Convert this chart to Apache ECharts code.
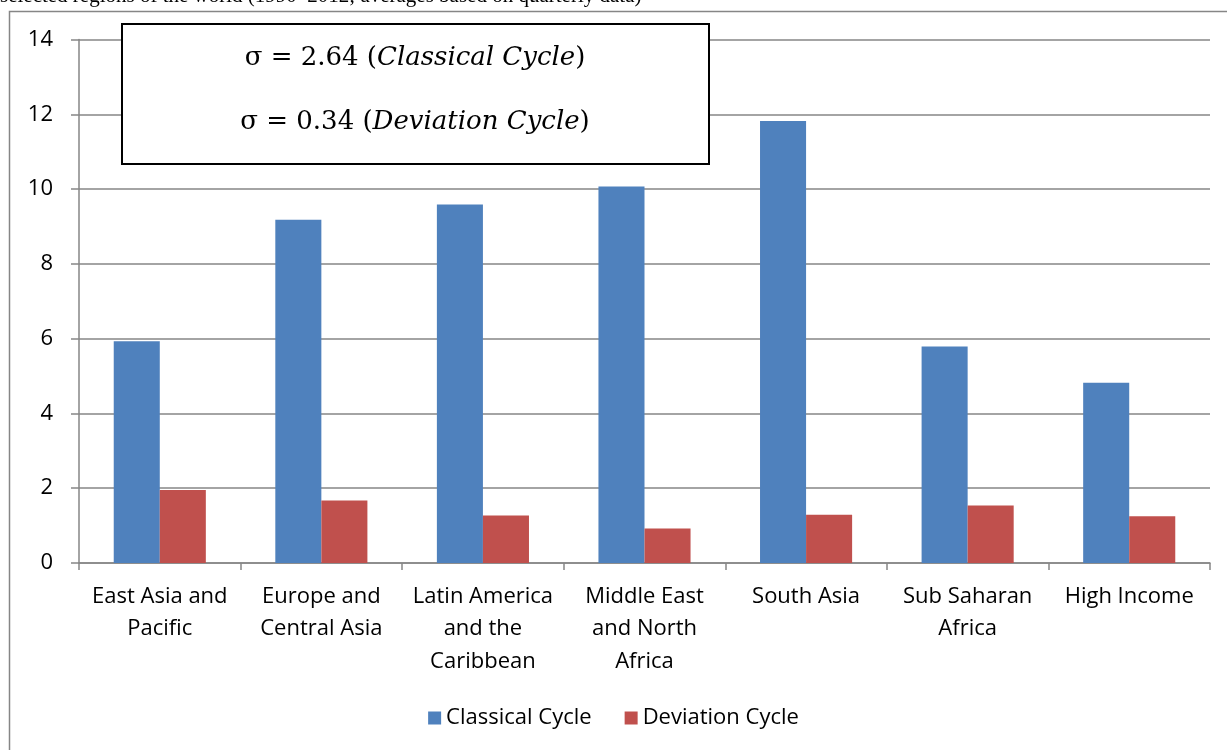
<!DOCTYPE html>
<html><head><meta charset="utf-8">
<script src="https://cdn.jsdelivr.net/npm/echarts@6/dist/echarts.min.js"></script>
<style>html,body{margin:0;padding:0;background:#fff}#c{width:1227px;height:750px}</style>
</head><body><div id="c"></div>
<script>
const categories = ["East Asia and\nPacific", "Europe and\nCentral Asia", "Latin America\nand the\nCaribbean", "Middle East\nand North\nAfrica", "South Asia", "Sub Saharan\nAfrica", "High Income"];
const classical = [5.93, 9.18, 9.59, 10.07, 11.82, 5.79, 4.82];
const deviation = [1.95, 1.67, 1.27, 0.92, 1.29, 1.54, 1.25];
const yTicks = [0, 2, 4, 6, 8, 10, 12, 14];
const seriesNames = ["Classical Cycle", "Deviation Cycle"];
const sigmaLines = [["2.64", "Classical Cycle"], ["0.34", "Deviation Cycle"]];
const subtitle = "selected regions of the world (1990\u20132012; averages based on quarterly data)";

const chart = echarts.init(document.getElementById('c'), null, {renderer: 'canvas'});
const font = "'Open Sans', sans-serif";
const gray = '#868686';
chart.setOption({
  animation: false,
  backgroundColor: '#fff',
  grid: {left: 79, right: 17, top: 39.5, bottom: 187, containLabel: false},
  legend: {
    data: seriesNames, top: 702, left: 'center', itemWidth: 13, itemHeight: 13, itemGap: 33,
    icon: 'rect', textStyle: {fontFamily: font, fontSize: 22, color: '#000'}
  },
  xAxis: {
    type: 'category', data: categories,
    axisLine: {lineStyle: {color: gray, width: 1.5}},
    axisTick: {show: true, length: 7, lineStyle: {color: gray, width: 1.5}},
    axisLabel: {fontFamily: font, fontSize: 22, color: '#000', lineHeight: 32.5, margin: 17, interval: 0}
  },
  yAxis: {
    type: 'value', min: yTicks[0], max: yTicks[yTicks.length - 1], interval: 2,
    axisLine: {show: true, lineStyle: {color: gray, width: 1.5}},
    axisTick: {show: true, length: 8, lineStyle: {color: gray, width: 1.5}},
    splitLine: {lineStyle: {color: gray, width: 1.5}},
    axisLabel: {fontFamily: font, fontSize: 22, color: '#000', margin: 26}
  },
  series: [
    {name: seriesNames[0], type: 'bar', data: classical, barGap: '0%', barCategoryGap: '43%', itemStyle: {color: '#4F81BD'}},
    {name: seriesNames[1], type: 'bar', data: deviation, barGap: '0%', barCategoryGap: '43%', itemStyle: {color: '#C0504D'}}
  ],
  graphic: [
    {type: 'rect', shape: {x: 9.5, y: 11.5, width: 1240, height: 760}, style: {fill: 'none', stroke: gray, lineWidth: 1.5}, z: -1, silent: true},
    {type: 'text', left: 0, top: -14, style: {text: subtitle, font: "21px 'Liberation Serif', serif", fill: '#000'}},
    {type: 'rect', shape: {x: 122, y: 24, width: 587, height: 140}, style: {fill: '#fff', stroke: '#000', lineWidth: 2}, z: 10},
    ...sigmaLines.map((l, i) => ({
      type: 'text', z: 11, x: 415, y: 58 + i * 64,
      style: {
        text: '{r|\u03C3 = ' + l[0] + ' (}{i|' + l[1] + '}{r|)}',
        align: 'center', verticalAlign: 'middle',
        rich: {
          r: {fontFamily: "'DejaVu Serif', serif", fontSize: 26, fill: '#000'},
          i: {fontFamily: "'DejaVu Serif', serif", fontSize: 26, fontStyle: 'italic', fill: '#000'}
        }
      }
    }))
  ]
});
</script></body></html>
